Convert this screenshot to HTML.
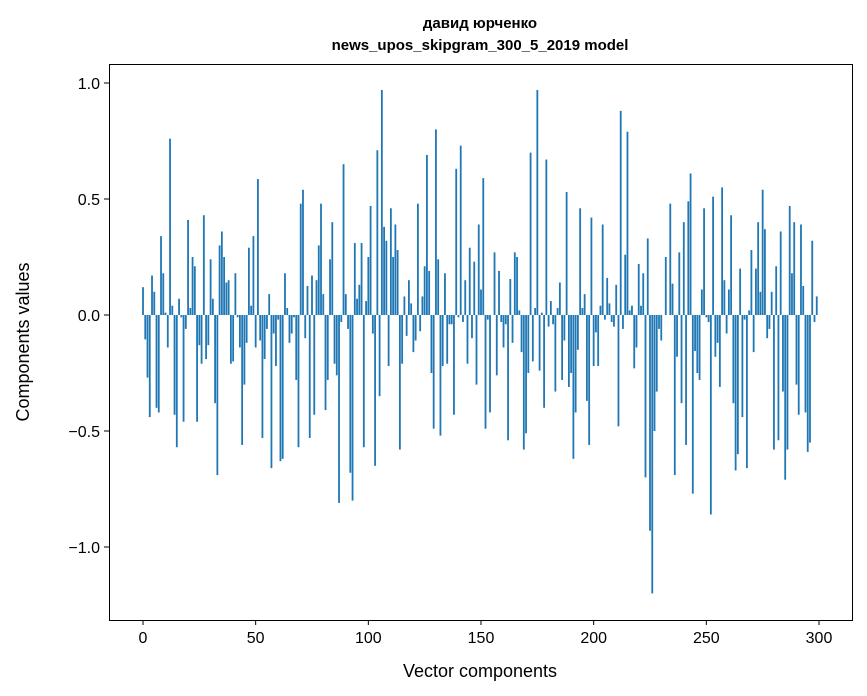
<!DOCTYPE html>
<html><head><meta charset="utf-8"><style>
html,body{margin:0;padding:0;background:#fff;}
svg{display:block;font-family:"Liberation Sans","DejaVu Sans",sans-serif;}
</style></head><body>
<svg id="chart" width="867" height="696" viewBox="0 0 867 696">
<rect x="0" y="0" width="867" height="696" fill="#fff"/>
<text x="480" y="28" text-anchor="middle" font-size="15" font-weight="bold">давид юрченко</text>
<text x="480" y="50" text-anchor="middle" font-size="15" font-weight="bold">news_upos_skipgram_300_5_2019 model</text>
<g id="bars"></g>
<g id="xticks"></g>
<g id="yticks"></g>
<rect x="109.5" y="64.5" width="743" height="556" fill="none" stroke="#000" stroke-width="1"/>
<text x="480" y="677" text-anchor="middle" font-size="18">Vector components</text>
<text x="0" y="0" transform="translate(29,342) rotate(-90)" text-anchor="middle" font-size="18">Components values</text>
</svg>
<script>
const values = [
0.12,-0.105,-0.27,-0.44,0.17,0.10,-0.40,-0.42,0.34,0.18,
0.01,-0.14,0.76,0.04,-0.43,-0.57,0.07,-0.01,-0.46,-0.06,
0.41,0.03,0.25,0.21,-0.46,-0.13,-0.21,0.43,-0.19,-0.13,
0.24,0.07,-0.38,-0.69,0.30,0.36,0.25,0.14,0.15,-0.21,
-0.20,0.18,-0.01,-0.14,-0.56,-0.30,-0.12,0.29,0.04,0.34,
-0.14,0.586,-0.11,-0.53,-0.19,-0.06,0.09,-0.66,-0.08,-0.22,
-0.02,-0.63,-0.62,0.18,0.03,-0.12,-0.08,-0.01,-0.28,-0.57,
0.48,0.54,-0.10,0.125,-0.53,0.17,-0.43,0.15,0.30,0.48,
0.09,-0.41,-0.28,0.24,0.40,-0.21,-0.26,-0.81,-0.03,0.65,
0.09,-0.06,-0.68,-0.80,0.31,0.07,0.13,0.31,-0.57,0.06,
0.25,0.47,-0.08,-0.65,0.71,-0.35,0.97,0.38,0.32,-0.22,
0.46,0.25,0.39,0.28,-0.58,-0.21,0.08,-0.09,0.15,0.05,
-0.16,-0.11,0.48,-0.07,0.08,0.21,0.69,0.19,-0.25,-0.49,
0.80,0.24,-0.52,-0.22,0.18,-0.21,-0.04,-0.04,-0.43,0.63,
-0.01,0.73,-0.03,0.15,-0.21,0.29,-0.10,0.23,-0.30,0.39,
0.11,0.59,-0.49,-0.02,-0.42,0,0.27,-0.26,0.19,-0.03,
-0.14,-0.04,-0.54,0.155,-0.12,0.27,0.25,0.02,-0.16,-0.58,
-0.51,-0.25,0.70,-0.20,0.03,0.97,-0.24,0.01,-0.40,0.67,
-0.05,0.06,-0.04,-0.33,0.03,0.14,-0.28,-0.11,0.53,-0.31,
-0.25,-0.62,-0.42,-0.15,0.46,0.03,0.09,-0.37,-0.56,0.42,
-0.22,-0.075,-0.22,0.04,0.39,-0.02,0.16,0.05,-0.03,-0.05,
0.13,-0.48,0.88,-0.06,0.26,0.79,0.02,0.04,-0.23,-0.14,
0.22,0.04,0.18,-0.70,0.33,-0.93,-1.20,-0.50,-0.33,-0.06,
-0.11,0,0.25,0,0.48,0.135,-0.69,-0.18,0.27,-0.38,
0.40,-0.56,0.49,0.61,-0.77,-0.155,-0.25,-0.28,0.11,0.46,
-0.01,-0.03,-0.86,0.51,-0.18,-0.12,-0.31,0.55,0.15,-0.08,
0.11,0.43,-0.38,-0.67,-0.60,0.20,-0.44,-0.02,-0.66,0.02,
0.28,-0.16,0.20,0.40,0.10,0.54,0.37,-0.10,-0.06,0.10,
-0.58,0.21,-0.54,0.36,-0.33,-0.71,-0.58,0.47,0.18,0.40,
-0.30,-0.43,0.39,0.125,-0.42,-0.59,-0.55,0.32,-0.03,0.08
];
const xTickValues = [0,50,100,150,200,250,300];
const yTickValues = [1.0,0.5,0.0,-0.5,-1.0];
const yTickLabels = ["1.0","0.5","0.0","\u22120.5","\u22121.0"];

const NS = "http://www.w3.org/2000/svg";
function xScale(v){ return 143 + v*(676/300); }
function yScale(v){ return 315 - v*232; }
const barsG = document.getElementById('bars');
const bw = 0.8*(676/300);
values.forEach((v,i)=>{
  const r = document.createElementNS(NS,'rect');
  const y0 = yScale(0), y1 = yScale(v);
  r.setAttribute('x', xScale(i)-bw/2);
  r.setAttribute('y', Math.min(y0,y1));
  r.setAttribute('width', bw);
  r.setAttribute('height', Math.abs(y1-y0));
  r.setAttribute('fill', '#1f77b4');
  
  
  barsG.appendChild(r);
});
const xg = document.getElementById('xticks');
xTickValues.forEach(t=>{
  const x = xScale(t);
  const l = document.createElementNS(NS,'line');
  l.setAttribute('x1',x);l.setAttribute('x2',x);l.setAttribute('y1',620);l.setAttribute('y2',625);
  l.setAttribute('stroke','#000');
  
  
  xg.appendChild(l);
  const tx = document.createElementNS(NS,'text');
  tx.setAttribute('x',x);tx.setAttribute('y',643);tx.setAttribute('text-anchor','middle');tx.setAttribute('font-size','16');
  tx.textContent = String(t);
  
  
  xg.appendChild(tx);
});
const yg = document.getElementById('yticks');
yTickValues.forEach((t,i)=>{
  const y = yScale(t);
  const l = document.createElementNS(NS,'line');
  l.setAttribute('x1',104);l.setAttribute('x2',109);l.setAttribute('y1',y);l.setAttribute('y2',y);
  l.setAttribute('stroke','#000');
  
  
  yg.appendChild(l);
  const tx = document.createElementNS(NS,'text');
  tx.setAttribute('x',100);tx.setAttribute('y',y+6);tx.setAttribute('text-anchor','end');tx.setAttribute('font-size','16');
  tx.textContent = yTickLabels[i];
  
  
  yg.appendChild(tx);
});
</script>
</body></html>
